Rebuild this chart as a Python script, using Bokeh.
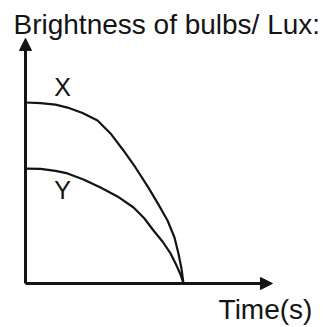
from bokeh.plotting import figure
from bokeh.models import Arrow, NormalHead, Range1d
from bokeh.core.properties import value
from bokeh.embed import file_html
from bokeh.resources import INLINE

# Brightness of the two bulbs as they fade over time (arbitrary units)
time_x = [0.0, 0.95, 1.90, 2.66, 3.61, 4.56, 5.38, 6.20, 6.96, 7.78, 8.42,
          8.99, 9.43, 9.68, 9.87, 10.0]
bright_x = [10.0, 9.97, 9.88, 9.72, 9.42, 9.01, 8.29, 7.35, 6.41, 5.30, 4.36,
            3.48, 2.54, 1.66, 0.83, 0.0]

time_y = [0.0, 0.95, 1.90, 2.66, 3.67, 4.75, 5.82, 6.84, 7.53, 8.10, 8.67,
          9.18, 9.56, 9.81, 10.0]
bright_y = [6.35, 6.33, 6.22, 6.08, 5.75, 5.30, 4.81, 4.20, 3.59, 2.93, 2.32,
            1.66, 0.99, 0.50, 0.0]

title_text = "Brightness of bulbs/ Lux:"
x_label = "Time(s)"
curve_names = ["X", "Y"]

ink = "#141414"
font = value("Liberation Sans")

p = figure(width=324, height=327, output_backend="svg", toolbar_location=None,
           x_axis_type=None, y_axis_type=None, min_border=0,
           x_range=Range1d(-1.582, 18.924), y_range=Range1d(-2.431, 15.635))
p.outline_line_color = None
p.grid.visible = False
p.background_fill_color = "white"
p.border_fill_color = "white"

# axes drawn as arrows from the origin
p.add_layout(Arrow(x_start=0, y_start=0, x_end=0, y_end=13.54, line_width=3,
                   line_color=ink,
                   end=NormalHead(size=12, fill_color=ink, line_color=ink)))
p.add_layout(Arrow(x_start=0, y_start=0, x_end=15.63, y_end=0, line_width=3,
                   line_color=ink,
                   end=NormalHead(size=12, fill_color=ink, line_color=ink)))

# the two bulb curves
p.line(time_x, bright_x, line_width=2.2, line_color=ink, line_join="round")
p.line(time_y, bright_y, line_width=2.2, line_color=ink, line_join="round")

p.text(x=[2.34, 2.34], y=[10.85, 5.15], text=curve_names, text_font=font,
       text_font_size="25px", text_align="center", text_baseline="alphabetic",
       text_color=ink)

p.text(x=[-0.76], y=[14.32], text=[title_text], text_font=font,
       text_font_size="28px", text_align="left", text_baseline="alphabetic",
       text_color=ink)
p.text(x=[12.22], y=[-1.42], text=[x_label], text_font=font,
       text_font_size="28px", text_align="left", text_baseline="alphabetic",
       text_color=ink)

open("out.html", "w").write(file_html(p, INLINE))
